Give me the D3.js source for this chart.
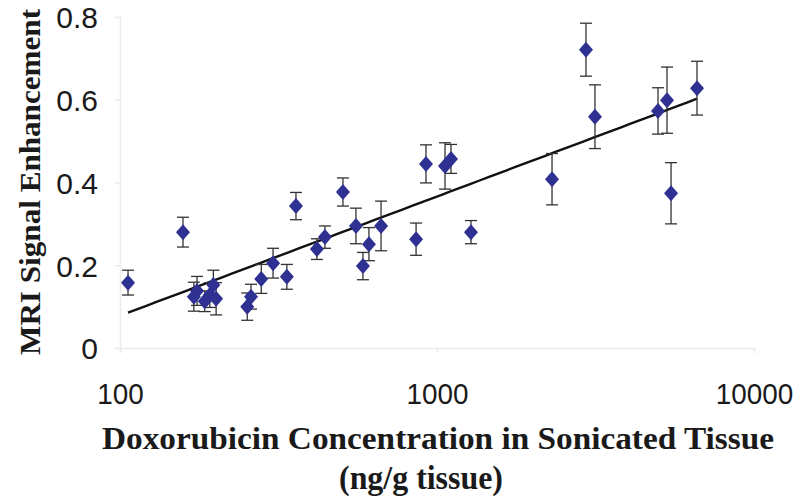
<!DOCTYPE html>
<html>
<head>
<meta charset="utf-8">
<script src="https://cdn.jsdelivr.net/npm/d3@7/dist/d3.min.js"></script>
<style>
  html, body { margin: 0; padding: 0; background: #fff; }
  svg { display: block; }
</style>
</head>
<body>
<svg id="chart" width="800" height="499"></svg>
<script>
// doxorubicin concentration (ng/g tissue)
var concentration = [106, 158, 171, 175, 185, 192, 197, 201, 252, 259, 279, 304, 336, 359,
  418, 443, 505, 555, 584, 610, 666, 859, 923, 1060, 1107, 1280,
  2306, 2951, 3150, 4980, 5316, 5474, 6610];
// MRI signal enhancement
var enhancement = [0.158, 0.280, 0.124, 0.138, 0.113, 0.128, 0.152, 0.119, 0.100, 0.124, 0.167, 0.205, 0.172, 0.343,
  0.239, 0.268, 0.377, 0.295, 0.198, 0.251, 0.295, 0.263, 0.445, 0.440, 0.457, 0.280,
  0.408, 0.721, 0.559, 0.573, 0.599, 0.374, 0.628];
// error bar half-lengths
var errors = [0.030, 0.036, 0.035, 0.035, 0.025, 0.030, 0.036, 0.039, 0.033, 0.030, 0.035, 0.036, 0.030, 0.033,
  0.025, 0.027, 0.034, 0.043, 0.033, 0.040, 0.060, 0.039, 0.046, 0.056, 0.035, 0.028,
  0.062, 0.064, 0.077, 0.056, 0.080, 0.074, 0.065];
// logarithmic trendline y = a*ln(x) + b
var trendCoef = [0.1251, -0.498];
var xTicks = [100, 1000, 10000];
var yTicks = [0, 0.2, 0.4, 0.6, 0.8];

(function() {
  var svg = d3.select('#chart');

  var x = d3.scaleLog().domain([100, 10000]).range([120, 754]);
  var y = d3.scaleLinear().domain([0, 0.8]).range([348, 17]);

  var points = concentration.map(function(c, i) {
    return { x: c, y: enhancement[i], e: errors[i] };
  });

  // faint axes, like the original
  var axisColor = '#ececec';
  var xAxis = svg.append('g')
    .attr('transform', 'translate(0,348)')
    .call(d3.axisBottom(x).tickValues(xTicks).tickSize(5).tickFormat(d3.format('d')));
  var yAxis = svg.append('g')
    .attr('transform', 'translate(120,0)')
    .call(d3.axisLeft(y).tickValues(yTicks).tickSize(5).tickFormat(function(d) { return d === 0 ? '0' : d3.format('.1f')(d); }));

  [xAxis, yAxis].forEach(function(ax) {
    ax.select('.domain').attr('stroke', axisColor).attr('stroke-width', 1.5);
    ax.selectAll('.tick line').attr('stroke', axisColor).attr('stroke-width', 1.5);
    ax.selectAll('.tick text')
      .attr('fill', '#1a1a1a')
      .attr('font-family', 'Liberation Sans, Arial, sans-serif')
      .attr('font-size', 30);
  });
  xAxis.selectAll('.tick text').attr('y', 0).attr('dy', 0)
    .attr('transform', 'translate(0,56) scale(0.93,1)');
  yAxis.selectAll('.tick text').attr('x', -22).attr('dy', '0.36em');

  // trendline
  var sorted = concentration.slice().sort(d3.ascending);
  var trendX = d3.range(0, 61).map(function(i) {
    var lo = Math.log(sorted[0]), hi = Math.log(sorted[sorted.length - 1]);
    return Math.exp(lo + (hi - lo) * i / 60);
  });
  var line = d3.line()
    .x(function(d) { return x(d); })
    .y(function(d) { return y(trendCoef[0] * Math.log(d) + trendCoef[1]); });
  svg.append('path')
    .datum(trendX)
    .attr('d', line)
    .attr('fill', 'none')
    .attr('stroke', '#111')
    .attr('stroke-width', 2.4);

  // error bars
  var bars = svg.append('g').attr('class', 'errors')
    .attr('stroke', '#333')
    .attr('stroke-width', 1.3);
  var caps = bars.selectAll('g')
    .data(points)
    .enter()
    .append('g');
  caps.append('line')
    .attr('x1', function(d) { return x(d.x); })
    .attr('x2', function(d) { return x(d.x); })
    .attr('y1', function(d) { return y(d.y + d.e); })
    .attr('y2', function(d) { return y(d.y - d.e); });
  caps.append('line')
    .attr('x1', function(d) { return x(d.x) - 6; })
    .attr('x2', function(d) { return x(d.x) + 6; })
    .attr('y1', function(d) { return y(d.y + d.e); })
    .attr('y2', function(d) { return y(d.y + d.e); });
  caps.append('line')
    .attr('x1', function(d) { return x(d.x) - 6; })
    .attr('x2', function(d) { return x(d.x) + 6; })
    .attr('y1', function(d) { return y(d.y - d.e); })
    .attr('y2', function(d) { return y(d.y - d.e); });

  // diamond markers
  svg.append('g').selectAll('path.pt')
    .data(points)
    .enter()
    .append('path')
    .classed('pt', true)
    .attr('d', 'M0,-8L7,0L0,8L-7,0Z')
    .attr('transform', function(d) { return 'translate(' + x(d.x) + ',' + y(d.y) + ')'; })
    .attr('fill', '#2e3192');

  // axis titles
  var titleFont = 'Liberation Serif, Times New Roman, serif';
  svg.append('text')
    .attr('x', 438).attr('y', 449)
    .attr('text-anchor', 'middle')
    .attr('font-family', titleFont).attr('font-weight', 'bold').attr('font-size', 31)
    .attr('textLength', 672).attr('lengthAdjust', 'spacingAndGlyphs')
    .attr('fill', '#1a1a1a')
    .text('Doxorubicin Concentration in Sonicated Tissue');
  svg.append('text')
    .attr('x', 421).attr('y', 489)
    .attr('text-anchor', 'middle')
    .attr('font-family', titleFont).attr('font-weight', 'bold').attr('font-size', 33)
    .attr('textLength', 164).attr('lengthAdjust', 'spacingAndGlyphs')
    .attr('fill', '#1a1a1a')
    .text('(ng/g tissue)');
  svg.append('text')
    .attr('transform', 'translate(40,182) rotate(-90)')
    .attr('text-anchor', 'middle')
    .attr('font-family', titleFont).attr('font-weight', 'bold').attr('font-size', 30)
    .attr('textLength', 346).attr('lengthAdjust', 'spacingAndGlyphs')
    .attr('fill', '#1a1a1a')
    .text('MRI Signal Enhancement');
})();
</script>
</body>
</html>
